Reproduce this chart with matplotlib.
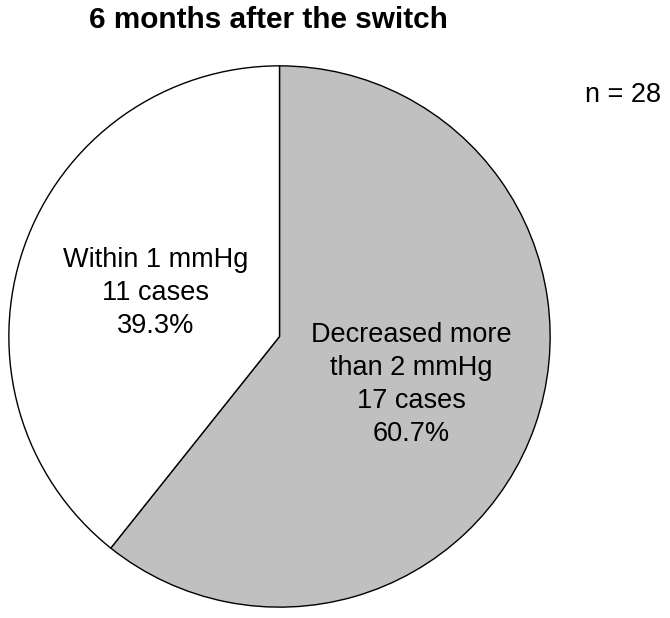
import matplotlib.pyplot as plt

plt.rcParams['font.family'] = ['Liberation Sans', 'DejaVu Sans']

labels = ['Decreased more\nthan 2 mmHg', 'Within 1 mmHg']
cases = [17, 11]
colors = ['#c0c0c0', '#ffffff']
n_total = sum(cases)

W, H = 670, 618
fig = plt.figure(figsize=(W / 100, H / 100), dpi=100)
cx, cy, r = 279.5, 336.5, 272
ax = fig.add_axes([(cx - r) / W, (H - cy - r) / H, 2 * r / W, 2 * r / H])

wedges, _ = ax.pie(cases, colors=colors, startangle=90, counterclock=False,
                   radius=1, wedgeprops=dict(edgecolor='black', linewidth=1.0))
ax.set_xlim(-1.005, 1.005)
ax.set_ylim(-1.005, 1.005)
ax.set_aspect('equal')

# slice labels
label_pos = [(0.487, -0.178), (-0.458, 0.160)]
for lab, c, (x, y) in zip(labels, cases, label_pos):
    pct = 100 * c / n_total
    ax.text(x, y, f'{lab}\n{c} cases\n{pct:.1f}%', ha='center', va='center',
            fontsize=19.5, linespacing=1.36)

fig.text(268 / W, 1 - 20 / H, '6 months after the switch', ha='center', va='center',
         fontsize=21.4, fontweight='bold')
fig.text(623 / W, 1 - 95 / H, f'n = {n_total}', ha='center', va='center', fontsize=19.5)

fig.savefig('out.png', dpi=100, facecolor='white')
